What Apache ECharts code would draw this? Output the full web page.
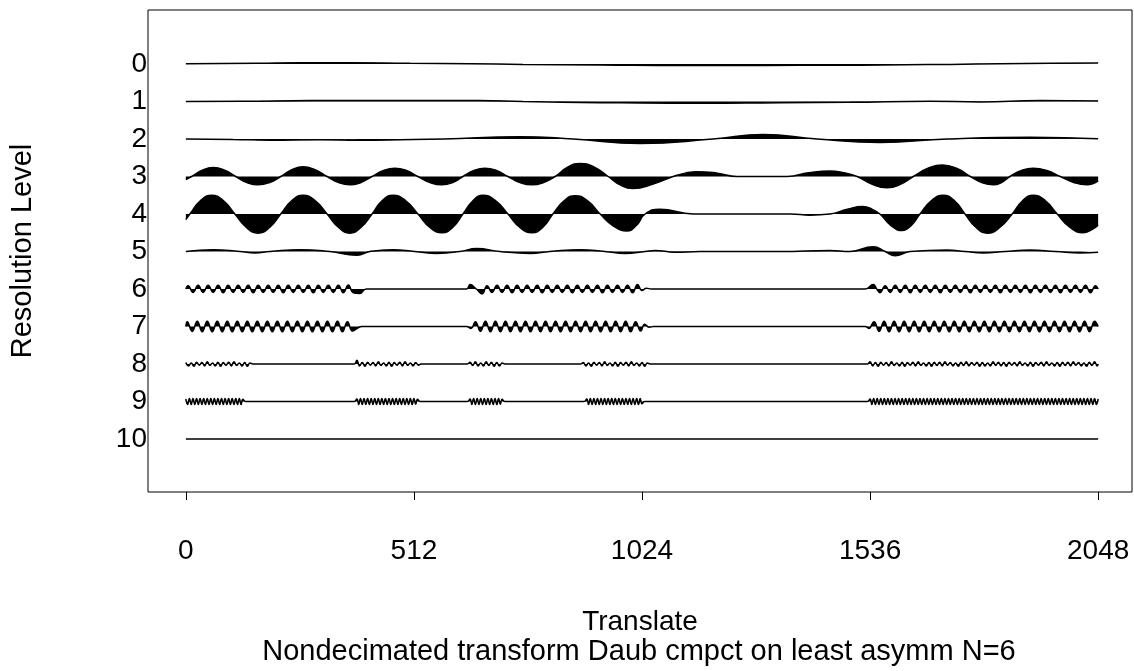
<!DOCTYPE html>
<html><head><meta charset="utf-8">
<script src="https://cdn.jsdelivr.net/npm/echarts@6/dist/echarts.min.js"></script>
<style>html,body{margin:0;padding:0;background:#fff}#c{width:1134px;height:671px}</style>
</head><body><div id="c"></div>
<script>
// Resolution levels and translate ticks
const levels = [0,1,2,3,4,5,6,7,8,9,10];
const translateTicks = [0,512,1024,1536,2048];
const xTitle = 'Translate';
const yTitle = 'Resolution Level';
const subTitle = 'Nondecimated transform Daub cmpct on least asymm N=6';

// Key points [translate, coefficient] (coefficient in level-spacing units, + = up)
const level0 = [[0,0.01],[160,0.02],[256,0.035],[368,0.035],[503,0.02],[638,0.01],[757,-0.01],[930,-0.025],[1109,-0.04],[1222,-0.04],[1379,-0.035],[1514,-0.03],[1615,-0.02],[1716,-0.01],[1828,0.01],[1940,0.02],[2048,0.025]];
const level1 = [[0,0],[126,0.005],[278,0.025],[481,0.03],[660,0.025],[757,0],[930,-0.03],[1020,-0.04],[1154,-0.045],[1334,-0.03],[1491,-0.02],[1671,0.01],[1783,-0.01],[1918,0.025],[2048,0.015]];
const level2 = [[0,0],[106,-0.01],[189,-0.03],[300,-0.02],[391,-0.03],[481,-0.02],[580,0],[750,0.06],[869,0],[1020,-0.12],[1183,0],[1296,0.12],[1417,0],[1558,-0.09],[1709,0],[1895,0.05],[2048,0.01]];
const level3 = [[0,-0.08],[13,0],[37,0.17],[61,0.24],[87,0.17],[112,0],[137,-0.16],[162,-0.22],[188,-0.16],[213,0],[238,0.18],[263,0.26],[290,0.18],[317,0],[343,-0.16],[368,-0.22],[393,-0.16],[418,0],[444,0.16],[469,0.22],[495,0.16],[521,0],[548,-0.16],[575,-0.22],[599,-0.16],[622,0],[647,0.16],[671,0.22],[697,0.16],[723,0],[750,-0.16],[777,-0.22],[803,-0.16],[829,0],[857,0.25],[885,0.35],[917,0.25],[948,0],[976,-0.23],[1004,-0.32],[1049,-0.2],[1094,0],[1121,0.09],[1148,0.13],[1193,0.09],[1237,0],[1350,0],[1398,0.1],[1446,0.15],[1477,0.1],[1507,0],[1541,-0.21],[1574,-0.3],[1604,-0.21],[1633,0],[1666,0.22],[1698,0.31],[1730,0.22],[1761,0],[1787,-0.16],[1812,-0.22],[1831,-0.16],[1850,0],[1876,0.16],[1902,0.22],[1933,0.16],[1963,0],[1993,-0.16],[2023,-0.22],[2048,-0.12]];
const level4 = [[0,-0.15],[9,0],[33,0.36],[58,0.5],[84,0.36],[110,0],[136,-0.36],[162,-0.51],[188,-0.36],[213,0],[238,0.36],[263,0.5],[290,0.36],[317,0],[343,-0.36],[368,-0.51],[393,-0.36],[418,0],[441,0.36],[465,0.5],[493,0.36],[521,0],[548,-0.36],[575,-0.5],[599,-0.36],[622,0],[645,0.36],[667,0.5],[695,0.36],[723,0],[750,-0.36],[777,-0.5],[801,-0.36],[824,0],[849,0.35],[874,0.49],[902,0.35],[930,0],[960,-0.32],[990,-0.45],[1012,-0.3],[1031,0],[1064,0.13],[1139,0],[1357,0],[1401,-0.03],[1446,0],[1485,0.13],[1520,0.2],[1540,0.13],[1558,0],[1583,-0.31],[1608,-0.44],[1628,-0.31],[1648,0],[1674,0.36],[1700,0.5],[1725,0.36],[1749,0],[1774,-0.36],[1799,-0.51],[1827,-0.36],[1855,0],[1879,0.36],[1902,0.5],[1929,0.36],[1956,0],[1985,-0.36],[2014,-0.5],[2036,-0.4],[2048,-0.3]];
const level5 = [[0,0],[61,0.05],[121,0],[155,-0.04],[189,0],[256,0.05],[323,0],[384,-0.1],[413,0],[465,0.05],[514,0],[564,-0.05],[615,0],[653,0.08],[705,0],[773,-0.05],[817,0],[885,0.05],[941,0],[986,-0.05],[1031,0],[1053,0.03],[1098,-0.02],[1154,0],[1334,0],[1446,0.03],[1491,0],[1543,0.13],[1570,0],[1592,-0.11],[1626,0],[1709,0.04],[1749,0],[1790,-0.04],[1839,0],[1895,0.04],[1952,0],[2008,-0.04],[2048,-0.02]];
const level6 = [[0,0],[390,-0.12],[405,0],[630,0],[638,0.12],[652,0],[665,-0.13],[1024,-0.04],[1034,0.02],[1045,0],[1525,0],[1543,0.12],[1551,0],[1558,-0.1],[2048,0]];
const level7 = [[0,0],[385,-0.05],[395,0],[630,0],[640,-0.05],[1030,0.06],[1040,-0.02],[1050,0],[1525,0],[1533,-0.05],[2048,0]];
const level8 = [[150,0],[378,0],[528,0],[632,0],[716,0],[886,0],[1042,0],[1530,0],[2048,0]];
const level9 = [[134,0],[378,0],[526,0],[632,0],[716,0],[894,0],[1030,0],[1530,0]];
const level10 = [[0,0],[2048,0]];

// Oscillation bursts: [from translate, to translate, successive extrema]
const level6Bursts = [
 [5,376,[0.09,-0.09,0.1,-0.09,0.1,-0.09,0.1,-0.1,0.1,-0.09,0.1,-0.09,0.1,-0.1,0.1,-0.09,0.1,-0.09,0.1,-0.1,0.1,-0.09,0.1,-0.09,0.1,-0.1,0.1,-0.09,0.1,-0.09,0.1,-0.1,0.11,-0.1]],
 [676,1014,[0.09,-0.09,0.1,-0.09,0.1,-0.1,0.1,-0.09,0.1,-0.09,0.1,-0.1,0.1,-0.09,0.1,-0.09,0.1,-0.1,0.1,-0.09,0.1,-0.09,0.1,-0.1,0.1,-0.09,0.1,-0.09,0.1,-0.1,0.12]],
 [1570,2042,[0.09,-0.09,0.1,-0.09,0.1,-0.1,0.1,-0.09,0.1,-0.09,0.1,-0.1,0.1,-0.09,0.1,-0.09,0.1,-0.1,0.1,-0.09,0.1,-0.09,0.1,-0.1,0.1,-0.09,0.1,-0.09,0.1,-0.1,0.1,-0.09,0.1,-0.09,0.1,-0.1,0.1,-0.09,0.1,-0.09,0.1,-0.1,0.09]]
];
const level7Bursts = [
 [3,374,[0.13,-0.13,0.14,-0.14,0.14,-0.14,0.14,-0.14,0.14,-0.14,0.14,-0.14,0.14,-0.14,0.14,-0.14,0.14,-0.14,0.14,-0.14,0.14,-0.14,0.14,-0.14,0.14,-0.14,0.14,-0.14,0.14,-0.14,0.14,-0.14,0.13,-0.12]],
 [650,1021,[0.13,-0.13,0.14,-0.14,0.14,-0.14,0.14,-0.14,0.14,-0.14,0.14,-0.14,0.14,-0.14,0.14,-0.14,0.14,-0.14,0.14,-0.14,0.14,-0.14,0.14,-0.14,0.14,-0.14,0.14,-0.14,0.14,-0.14,0.14,-0.14,0.13,-0.12]],
 [1545,2040,[0.13,-0.13,0.14,-0.14,0.14,-0.14,0.14,-0.14,0.14,-0.14,0.14,-0.14,0.14,-0.14,0.14,-0.14,0.14,-0.14,0.14,-0.14,0.14,-0.14,0.14,-0.14,0.14,-0.14,0.14,-0.14,0.14,-0.14,0.14,-0.14,0.14,-0.14,0.14,-0.14,0.14,-0.14,0.14,-0.14,0.14,-0.14,0.14,-0.14,0.14]]
];
const level8Bursts = [
 [0,144,[0.04,-0.05,0.03,-0.06,0.05,-0.03,0.04,-0.05,0.06,-0.04,0.03,-0.05,0.05,-0.06,0.04,-0.03,0.05,-0.05,0.06,-0.04,0.03,-0.05,0.04,-0.06,0.03]],
 [384,522,[0.1,-0.05,0.04,-0.06,0.05,-0.03,0.04,-0.05,0.06,-0.04,0.03,-0.05,0.05,-0.06,0.04,-0.03,0.05,-0.05,0.06,-0.04,0.03,-0.05,0.04,-0.03]],
 [638,710,[0.05,-0.04,0.06,-0.05,0.03,-0.05,0.06,-0.04,0.05,-0.06,0.04,-0.05,0.03]],
 [892,1036,[0.04,-0.05,0.03,-0.06,0.05,-0.03,0.04,-0.05,0.06,-0.04,0.03,-0.05,0.05,-0.06,0.04,-0.03,0.05,-0.05,0.06,-0.04,0.03,-0.05,0.04,-0.06,0.03]],
 [1536,2046,[0.06,-0.05,0.04,-0.06,0.05,-0.03,0.04,-0.05,0.06,-0.04,0.03,-0.05,0.05,-0.06,0.04,-0.03,0.05,-0.05,0.06,-0.04,0.03,-0.05,0.04,-0.06,0.05,-0.04,0.05,-0.05,0.06,-0.03,0.04,-0.05,0.03,-0.06,0.05,-0.04,0.06,-0.05,0.04,-0.03,0.05,-0.06,0.04,-0.05,0.03,-0.05,0.06,-0.04,0.05,-0.05,0.04,-0.06,0.05,-0.03,0.04,-0.05,0.06,-0.04,0.03,-0.05,0.05,-0.06,0.04,-0.03,0.05,-0.05,0.06,-0.04,0.03,-0.05,0.04,-0.06,0.05,-0.04,0.05,-0.05,0.06,-0.03,0.04,-0.05,0.03,-0.06,0.05,-0.04,0.06,-0.05]]
];
const level9Bursts = [
 [0,128,[0.07,-0.08,0.08,-0.08,0.08,-0.08,0.08,-0.08,0.08,-0.08,0.08,-0.08,0.08,-0.08,0.08,-0.08,0.08,-0.08,0.08,-0.08,0.08,-0.08,0.08,-0.08,0.08,-0.08,0.08,-0.08,0.08,-0.08,0.08,-0.08,0.06]],
 [384,520,[0.07,-0.08,0.08,-0.08,0.08,-0.08,0.08,-0.08,0.08,-0.08,0.08,-0.08,0.08,-0.08,0.08,-0.08,0.08,-0.08,0.08,-0.08,0.08,-0.08,0.08,-0.08,0.08,-0.08,0.08,-0.08,0.08,-0.08,0.08,-0.08,0.08,-0.07,0.06]],
 [638,710,[0.07,-0.08,0.08,-0.08,0.08,-0.08,0.08,-0.08,0.08,-0.08,0.08,-0.08,0.08,-0.08,0.08,-0.08,0.08,-0.07,0.06]],
 [900,1024,[0.07,-0.08,0.08,-0.08,0.08,-0.08,0.08,-0.08,0.08,-0.08,0.08,-0.08,0.08,-0.08,0.08,-0.08,0.08,-0.08,0.08,-0.08,0.08,-0.08,0.08,-0.08,0.08,-0.08,0.08,-0.08,0.08,-0.08,0.08,-0.06]],
 [1536,2048,[0.07,-0.08,0.08,-0.08,0.08,-0.08,0.08,-0.08,0.08,-0.08,0.08,-0.08,0.08,-0.08,0.08,-0.08,0.08,-0.08,0.08,-0.08,0.08,-0.08,0.08,-0.08,0.08,-0.08,0.08,-0.08,0.08,-0.08,0.08,-0.08,0.08,-0.08,0.08,-0.08,0.08,-0.08,0.08,-0.08,0.08,-0.08,0.08,-0.08,0.08,-0.08,0.08,-0.08,0.08,-0.08,0.08,-0.08,0.08,-0.08,0.08,-0.08,0.08,-0.08,0.08,-0.08,0.08,-0.08,0.08,-0.08,0.08,-0.08,0.08,-0.08,0.08,-0.08,0.08,-0.08,0.08,-0.08,0.08,-0.08,0.08,-0.08,0.08,-0.08,0.08,-0.08,0.08,-0.08,0.08,-0.08,0.08,-0.08,0.08,-0.08,0.08,-0.08,0.08,-0.08,0.08,-0.08,0.08,-0.08,0.08,-0.08,0.08,-0.08,0.08,-0.08,0.08,-0.08,0.08,-0.08,0.08,-0.08,0.08,-0.08,0.08,-0.08,0.08,-0.08,0.08,-0.08,0.08,-0.08,0.08,-0.08,0.08,-0.08,0.08,-0.08,0.08,-0.08,0.07]]
];

const levelPoints = [level0,level1,level2,level3,level4,level5,level6,level7,level8,level9,level10];
const levelBursts = [[],[],[],[],[],[],level6Bursts,level7Bursts,level8Bursts,level9Bursts,[]];

function buildLevel(lev) {
  const pts = levelPoints[lev].map(p => [p[0], p[1]]);
  levelBursts[lev].forEach(b => {
    const t0 = b[0], t1 = b[1], vals = b[2], n = vals.length;
    vals.forEach((v, i) => pts.push([t0 + (t1 - t0) * i / (n - 1), v]));
  });
  pts.sort((a, b) => a[0] - b[0]);
  return pts.map(p => [p[0], lev - p[1]]);
}

const FONT = '"Liberation Sans", Arial, sans-serif';
const FS = 28;
const chart = echarts.init(document.getElementById('c'), null, {renderer: 'canvas'});
chart.setOption({
  animation: false,
  backgroundColor: '#fff',
  title: {text: subTitle, left: 634, textAlign: 'center', top: 632, textStyle: {fontFamily: FONT, fontSize: 29, fontWeight: 'normal', color: '#000'}},
  grid: {left: 148, right: 2, top: 10, bottom: 179, show: true, borderColor: '#000', borderWidth: 1, backgroundColor: 'transparent'},
  xAxis: {
    type: 'value', min: -85, max: 2124,
    name: xTitle, nameLocation: 'middle', nameGap: 116,
    nameTextStyle: {fontFamily: FONT, fontSize: FS, color: '#000'},
    axisLine: {show: false, onZero: false},
    splitLine: {show: false},
    axisTick: {show: true, length: 8, lineStyle: {color: '#000', width: 1}, customValues: translateTicks},
    axisLabel: {fontFamily: FONT, fontSize: FS, color: '#000', margin: 45, customValues: translateTicks, formatter: v => String(v)}
  },
  yAxis: {
    type: 'value', inverse: true, min: -1.44, max: 11.413,
    name: yTitle, nameLocation: 'middle', nameGap: 111, nameRotate: 90,
    nameTextStyle: {fontFamily: FONT, fontSize: 29, color: '#000'},
    axisLine: {show: false},
    splitLine: {show: false},
    axisTick: {show: false},
    axisLabel: {fontFamily: FONT, fontSize: FS, color: '#000', margin: 1, customValues: levels, formatter: v => String(v)}
  },
  series: levels.map(lev => ({
    type: 'line',
    name: 'Level ' + lev,
    data: buildLevel(lev),
    smooth: true,
    showSymbol: false,
    symbol: 'none',
    sampling: 'none',
    silent: true,
    lineStyle: {color: '#000', width: 1.5},
    areaStyle: {color: '#000', opacity: 1, origin: lev}
  }))
});
</script>
</body></html>
